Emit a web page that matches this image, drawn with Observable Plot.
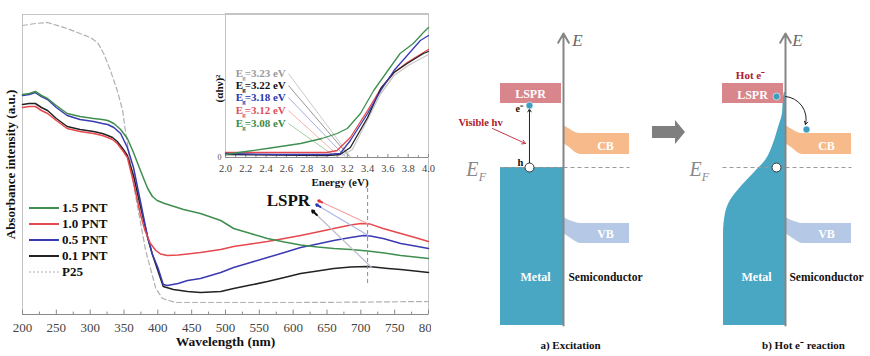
<!DOCTYPE html>
<html><head><meta charset="utf-8">
<script src="https://cdn.jsdelivr.net/npm/d3@7"></script>
<script src="https://cdn.jsdelivr.net/npm/@observablehq/plot@0.6"></script>
<style>
body{margin:0;background:#fff;}
#root{position:relative;width:870px;height:356px;overflow:hidden;background:#fff;font-family:'Liberation Serif','Times New Roman',serif;}
.leg{position:absolute;left:29px;font:bold 13px 'Liberation Serif',serif;color:#111;display:flex;align-items:center;height:14px;}
.leg svg{margin-right:2px;}
</style></head><body><div id="root"></div>
<script>
// ---------- Absorbance spectra (wavelength nm, absorbance a.u.) ----------
const wavelengthTicks = [200,250,300,350,400,450,500,550,600,650,700,750,800];
const wavelengthMinor = [225,275,325,375,425,475,525,575,625,675,725,775];
const seriesNames = ["1.5 PNT","1.0 PNT","0.5 PNT","0.1 PNT","P25"];
const seriesColors = ["#3f8f4f","#e5484d","#3a3ab2","#222222","#b0b0b0"];

const pnt15 = [[200,1.10],[210,1.105],[219,1.115],[228,1.095],[237,1.08],[250,1.045],[266,1.005],[285,0.99],[305,0.98],[318,0.975],[326,0.97],[335,0.955],[345,0.925],[355,0.88],[364,0.81],[372,0.74],[379,0.68],[385,0.63],[392,0.59],[399,0.57],[410,0.555],[438,0.525],[463,0.505],[493,0.47],[512,0.43],[537,0.405],[562,0.38],[587,0.362],[611,0.347],[636,0.337],[660,0.33],[685,0.325],[710,0.318],[735,0.307],[759,0.295],[780,0.287],[800,0.28]];
const pnt10 = [[200,1.035],[210,1.04],[219,1.04],[228,1.02],[237,1.005],[250,0.97],[266,0.93],[285,0.915],[305,0.905],[318,0.895],[326,0.885],[333,0.875],[340,0.855],[348,0.82],[355,0.785],[362,0.69],[368,0.6],[374,0.505],[381,0.42],[389,0.355],[397,0.32],[404,0.303],[414,0.295],[430,0.297],[444,0.303],[463,0.31],[493,0.325],[512,0.34],[537,0.352],[562,0.365],[587,0.38],[611,0.395],[636,0.412],[660,0.43],[685,0.447],[700,0.455],[714,0.452],[733,0.43],[759,0.405],[780,0.385],[800,0.365]];
const pnt05 = [[200,1.095],[210,1.10],[219,1.11],[228,1.09],[237,1.075],[250,1.035],[266,0.995],[285,0.975],[305,0.965],[318,0.955],[326,0.95],[335,0.935],[345,0.905],[355,0.835],[364,0.735],[374,0.57],[385,0.385],[392,0.3],[400,0.235],[408,0.15],[414,0.145],[430,0.155],[444,0.17],[463,0.18],[493,0.21],[512,0.235],[537,0.26],[562,0.285],[587,0.31],[611,0.335],[636,0.352],[660,0.37],[685,0.385],[704,0.395],[714,0.393],[733,0.38],[759,0.355],[780,0.342],[800,0.33]];
const pnt01 = [[200,1.05],[210,1.055],[219,1.055],[228,1.035],[237,1.02],[250,0.98],[266,0.94],[285,0.925],[305,0.915],[318,0.905],[326,0.895],[333,0.885],[340,0.865],[348,0.83],[355,0.795],[364,0.695],[374,0.545],[385,0.385],[392,0.3],[400,0.22],[408,0.14],[423,0.125],[444,0.115],[463,0.11],[493,0.115],[512,0.13],[537,0.147],[562,0.165],[587,0.185],[611,0.205],[636,0.218],[660,0.23],[685,0.237],[710,0.24],[719,0.237],[740,0.23],[759,0.225],[780,0.218],[800,0.21]];
const p25 = [[200,1.445],[219,1.455],[237,1.46],[266,1.43],[300,1.385],[311,1.36],[320,1.305],[330,1.22],[340,1.12],[348,1.02],[352,0.92],[367,0.595],[382,0.32],[397,0.13],[407,0.08],[426,0.06],[500,0.06],[611,0.06],[700,0.062],[800,0.065]];

// LSPR annotation: arrows from band maxima to the label
const lsprLabel = {x: 593, y: 0.57, text: "LSPR"};
const lsprArrows = [
  {x1:710, y1:0.455, x2:637, y2:0.57, line:"#f2a3a3", head:"#e03040"},
  {x1:711, y1:0.395, x2:634, y2:0.55, line:"#aab6ea", head:"#2a3aa8"},
  {x1:716, y1:0.235, x2:628, y2:0.52, line:"#bcbccc", head:"#111111"}
];
const lsprMarker = {x:710, y1:0.155, y2:0.655};

// ---------- Inset: Tauc plot (energy eV, (αhν)²) ----------
const energyTicks = [2.0,2.2,2.4,2.6,2.8,3.0,3.2,3.4,3.6,3.8,4.0];
const energyMinor = [2.1,2.3,2.5,2.7,2.9,3.1,3.3,3.5,3.7,3.9];
const taucGreen = [[2.0,3],[2.2,6],[2.41,9],[2.74,14],[2.95,19],[3.10,24],[3.20,29],[3.33,44],[3.46,67],[3.60,87],[3.72,104],[3.85,114],[3.95,125],[4.0,130]];
const taucBlue  = [[2.0,4],[2.5,3],[3.0,3],[3.13,4],[3.23,17],[3.40,44],[3.53,67],[3.66,87],[3.79,102],[3.92,117],[4.0,122]];
const taucBlack = [[2.0,3],[3.0,2],[3.13,3],[3.23,10],[3.40,40],[3.53,69],[3.66,85],[3.79,94],[3.95,104],[4.0,106]];
const taucRed   = [[2.0,5],[3.0,5],[3.10,7],[3.23,20],[3.40,47],[3.53,69],[3.66,85],[3.79,95],[3.95,105],[4.0,108]];
const taucGray  = [[3.15,2],[3.25,8],[3.40,38],[3.53,64],[3.66,82],[3.80,92],[4.0,103]];
const egValues = [3.23,3.22,3.18,3.12,3.08];
const egColors = ["#9a9a9a","#111111","#2a35b0","#e0505a","#3a8a45"];
const egLineColors = ["#c4c4c4","#8a8a8a","#9aa2dc","#f2a8a8","#9cc89c"];
const egRowValue = [84,72,60,47,34];

// ---------- Band diagrams (x: distance, metal < 0 < semiconductor; y: energy, E_F = 0) ----------
const metalA = [{x1:-1.05, x2:0, y1:-3.16, y2:0}];
const lsprBox = [{x1:-1.05, x2:-0.033, y1:1.28, y2:1.68}];
const cbShape = [{x:0,lo:0.48,hi:0.84},{x:0.1,lo:0.40,hi:0.77},{x:0.2,lo:0.30,hi:0.70},{x:0.28,lo:0.26,hi:0.68},{x:1.1,lo:0.26,hi:0.68}];
const vbShape = [{x:0,lo:-1.32,hi:-1.0},{x:0.1,lo:-1.40,hi:-1.06},{x:0.2,lo:-1.48,hi:-1.10},{x:0.28,lo:-1.52,hi:-1.12},{x:1.1,lo:-1.52,hi:-1.12}];
const metalB = [{e:1.5,x:-0.02},{e:1.4,x:-0.033},{e:1.08,x:-0.05},{e:0.8,x:-0.117},{e:0.48,x:-0.2},{e:0.14,x:-0.333},{e:-0.12,x:-0.533},{e:-0.4,x:-0.75},{e:-0.66,x:-0.917},{e:-0.92,x:-1.0},{e:-1.32,x:-1.033},{e:-3.16,x:-1.033}];
const bigArrow = [{x:-2.217,lo:0.58,hi:0.82},{x:-1.833,lo:0.58,hi:0.82},{x:-1.833,lo:0.46,hi:0.94},{x:-1.667,lo:0.70,hi:0.70}];
const energyAxis = [{x:0, y1:-3.16, y2:2.68}];
const fermiLine = [{x1:-1.05, x2:1.1, y:0}];
const excitation = [{x1:-0.567, y1:0.09, x2:-0.567, y2:1.17}];
const lightArrow = [{x1:-1.183, y1:0.78, x2:-0.633, y2:0.48}];
const transfer = [{x1:0.0, y1:1.42, x2:0.333, y2:0.86}];
const electronsA = [{x:-0.567, y:1.24}];
const holesA = [{x:-0.567, y:0}];
const electronsB = [{x:-0.15, y:1.42},{x:0.35, y:0.76}];
const holesB = [{x:-0.15, y:0}];
const textsA = [
  {x:0.233,y:2.54,t:"E",fill:"#666",size:17,w:"normal",it:"italic"},
  {x:-0.55,y:1.46,t:"LSPR",fill:"#fff",size:12,w:"bold",it:"normal"},
  {x:-0.74,y:1.17,t:"e⁻",fill:"#111",size:10,w:"bold",it:"normal"},
  {x:-1.383,y:0.9,t:"Visible hv",fill:"#b0202c",size:10.5,w:"bold",it:"normal"},
  {x:-0.72,y:0.1,t:"h",fill:"#111",size:10.5,w:"bold",it:"normal"},
  {x:-1.52,y:-0.04,t:"E",fill:"#888",size:20,w:"normal",it:"italic"},
  {x:-1.35,y:-0.2,t:"F",fill:"#888",size:12,w:"normal",it:"italic"},
  {x:0.7,y:0.42,t:"CB",fill:"#fff",size:12,w:"bold",it:"normal"},
  {x:0.7,y:-1.34,t:"VB",fill:"#fff",size:12,w:"bold",it:"normal"},
  {x:-0.467,y:-2.2,t:"Metal",fill:"#fff",size:12,w:"bold",it:"normal"},
  {x:0.7,y:-2.2,t:"Semiconductor",fill:"#111",size:11.5,w:"bold",it:"normal"},
  {x:0.117,y:-3.56,t:"a) Excitation",fill:"#111",size:11,w:"bold",it:"normal"}
];
const textsB = [
  {x:0.2,y:2.54,t:"E",fill:"#666",size:17,w:"normal",it:"italic"},
  {x:-0.583,y:1.84,t:"Hot e⁻",fill:"#b0202c",size:11,w:"bold",it:"normal"},
  {x:-0.55,y:1.44,t:"LSPR",fill:"#fff",size:12,w:"bold",it:"normal"},
  {x:-1.5,y:-0.04,t:"E",fill:"#888",size:20,w:"normal",it:"italic"},
  {x:-1.333,y:-0.2,t:"F",fill:"#888",size:12,w:"normal",it:"italic"},
  {x:0.683,y:0.42,t:"CB",fill:"#fff",size:12,w:"bold",it:"normal"},
  {x:0.683,y:-1.34,t:"VB",fill:"#fff",size:12,w:"bold",it:"normal"},
  {x:-0.483,y:-2.2,t:"Metal",fill:"#fff",size:12,w:"bold",it:"normal"},
  {x:0.683,y:-2.2,t:"Semiconductor",fill:"#111",size:11.5,w:"bold",it:"normal"},
  {x:0.3,y:-3.56,t:"b) Hot e⁻ reaction",fill:"#111",size:11,w:"bold",it:"normal"}
];

// ---------- build ----------
const root = document.getElementById("root");
const serif = "'Liberation Serif','Times New Roman',serif";
function place(el, left, top){ el.style.position="absolute"; el.style.left=left+"px"; el.style.top=top+"px"; root.appendChild(el); }
const toRows = arr => arr.map(([x,y]) => ({x,y}));

// Main chart
const mainSeries = [pnt15, pnt10, pnt05, pnt01];
const main = Plot.plot({
  width: 431, height: 356,
  marginLeft: 22, marginRight: 3, marginTop: 14, marginBottom: 42,
  x: {domain:[200,800], ticks: wavelengthTicks, tickSize: 0, tickPadding: 8, tickFormat: d => String(d), label: null},
  y: {domain:[0,1.5], axis: null},
  style: {fontFamily: serif, fontSize: "13px", color: "#444", background: "transparent", overflow: "hidden"},
  marks: [
    Plot.frame({stroke:"#c4c4c4"}),
    Plot.ruleY([0], {stroke:"#8a8a8a"}),
    Plot.ruleX(wavelengthTicks, {y1:0, y2:0.022, stroke:"#8a8a8a"}),
    Plot.ruleX(wavelengthMinor, {y1:0, y2:0.012, stroke:"#8a8a8a"}),
    Plot.line(toRows(p25), {x:"x", y:"y", stroke: seriesColors[4], strokeWidth: 1.2, strokeDasharray: "5,3"}),
    ...mainSeries.map((s,i) => Plot.line(toRows(s), {x:"x", y:"y", stroke: seriesColors[i], strokeWidth: 1.5})).reverse(),
    Plot.ruleX([lsprMarker], {x:"x", y1:"y1", y2:"y2", stroke:"#a67aa6", strokeDasharray:"4,3", strokeWidth: 1}),
    Plot.link(lsprArrows, {x1:"x1", y1:"y1", x2:"x2", y2:"y2", stroke: d => d.line, strokeWidth: 1.2}),
    Plot.arrow(lsprArrows, {x1: d => d.x2 + (d.x1-d.x2)*0.08, y1: d => d.y2 + (d.y1-d.y2)*0.08, x2:"x2", y2:"y2", stroke: d => d.head, strokeWidth: 2, headLength: 6}),
    Plot.text([lsprLabel], {x:"x", y:"y", text:"text", fontSize: 17, fontWeight:"bold", fill:"#111"}),
    Plot.text(["Absorbance intensity (a.u.)"], {text: d => d, frameAnchor:"left", textAnchor:"middle", dx:-12, rotate:-90, fontSize:13, fontWeight:"bold", fill:"#111"}),
    Plot.text(["Wavelength (nm)"], {text: d => d, frameAnchor:"bottom", dy:31, fontSize:13.5, fontWeight:"bold", fill:"#111"})
  ]
});
place(main, 0, 0);

// Legend
seriesNames.forEach((name, i) => {
  const d = document.createElement("div");
  d.className = "leg";
  d.style.top = (201 + i*16) + "px";
  const dash = i === 4 ? 'stroke-dasharray="2,2"' : '';
  d.innerHTML = `<svg width="31" height="4"><line x1="0" y1="2" x2="30" y2="2" stroke="${seriesColors[i]}" stroke-width="${i===4?1.2:2}" ${dash}/></svg><span>${name}</span>`;
  root.appendChild(d);
});

// Inset
const taucSeries = [taucGray, taucRed, taucBlack, taucBlue, taucGreen];
const taucColors = ["#c8c8c8", "#e5484d", "#222222", "#3a3ab2", "#3f8f4f"];
const egRows = egValues.map((v,i) => ({eg:v, label:"=" + v.toFixed(2) + " eV", color: egColors[i], line: egLineColors[i], row: egRowValue[i]}));
const inset = Plot.plot({
  width: 231, height: 192,
  marginLeft: 25, marginRight: 3, marginTop: 13, marginBottom: 35,
  x: {domain:[2,4], ticks: energyTicks, tickSize: 0, tickPadding: 7, tickFormat: d => d.toFixed(1), label: null},
  y: {domain:[0,144], axis: null},
  style: {fontFamily: serif, fontSize: "10.5px", color: "#444", background: "transparent", overflow: "visible"},
  marks: [
    Plot.frame({stroke:"#c4c4c4"}),
    Plot.ruleY([0], {stroke:"#8a8a8a"}),
    Plot.ruleX(energyTicks, {y1:0, y2:3, stroke:"#8a8a8a"}),
    Plot.ruleX(energyMinor, {y1:0, y2:1.8, stroke:"#8a8a8a"}),
    Plot.link(egRows, {x1: 2.62, y1: "row", x2: "eg", y2: 1, stroke: "line", strokeWidth: 0.9}),
    ...taucSeries.map((s,i) => Plot.line(toRows(s), {x:"x", y:"y", stroke: taucColors[i], strokeWidth: 1.3})),
    Plot.text(egRows, {x: 2.1, y: "row", text: d => "E", fill: "color", fontWeight:"bold", fontSize: 11, textAnchor:"start"}),
    Plot.text(egRows, {x: 2.1, y: "row", text: d => "g", fill: "color", fontWeight:"bold", fontSize: 7, textAnchor:"start", dx: 6.5, dy: 4}),
    Plot.text(egRows, {x: 2.1, y: "row", text: "label", fill: "color", fontWeight:"bold", fontSize: 11, textAnchor:"start", dx: 9}),
    Plot.text(["0"], {x: 2, y: 0, text: d => d, dx: -4, textAnchor: "end", fontSize: 8, fill:"#555"}),
    Plot.text(["(αhν)²"], {text: d => d, frameAnchor:"left", textAnchor:"middle", dx:-6, dy: 3, rotate:-90, fontSize:11, fontWeight:"bold", fill:"#111"}),
    Plot.text(["Energy (eV)"], {text: d => d, frameAnchor:"bottom", dx: 13, dy: 28, fontSize:11, fontWeight:"bold", fill:"#111"})
  ]
});
place(inset, 200, 0);

// Band diagrams
const diagBase = {width: 220, height: 356, margin: 0,
  x: {domain:[-2.2167, 1.45], axis: null},
  y: {domain:[-3.78, 3.34], axis: null},
  style: {fontFamily: serif, background: "transparent", overflow: "visible"}};
const textMarks = arr => arr.map(t => Plot.text([t], {x:"x", y:"y", text:"t", fill: t.fill, fontSize: t.size, fontWeight: t.w, fontStyle: t.it}));
const bandMarks = [
  Plot.areaY(cbShape, {x:"x", y1:"lo", y2:"hi", fill:"#f7bb8b", curve:"monotone-x"}),
  Plot.areaY(vbShape, {x:"x", y1:"lo", y2:"hi", fill:"#b5c8e6", curve:"monotone-x"})
];
const panelA = Plot.plot({...diagBase, marks: [
  Plot.rect(metalA, {x1:"x1", x2:"x2", y1:"y1", y2:"y2", fill:"#4aa7c4"}),
  Plot.rect(lsprBox, {x1:"x1", x2:"x2", y1:"y1", y2:"y2", fill:"#d9858c"}),
  ...bandMarks,
  Plot.link(fermiLine, {x1:"x1", x2:"x2", y1:"y", y2:"y", stroke:"#9a9a9a", strokeDasharray:"4,3", strokeWidth: 1.2}),
  Plot.arrow(energyAxis, {x1:"x", x2:"x", y1:"y1", y2:"y2", stroke:"#858585", strokeWidth: 2, headLength: 8}),
  Plot.arrow(excitation, {x1:"x1", y1:"y1", x2:"x2", y2:"y2", stroke:"#222", strokeWidth: 1, headLength: 5}),
  Plot.arrow(lightArrow, {x1:"x1", y1:"y1", x2:"x2", y2:"y2", stroke:"#c03a4a", strokeWidth: 1, headLength: 6}),
  Plot.dot(electronsA, {x:"x", y:"y", r: 3.5, fill:"#3d9ec0", stroke:"#fff", strokeWidth: 0.6}),
  Plot.dot(holesA, {x:"x", y:"y", r: 4.5, fill:"#fff", stroke:"#333", strokeWidth: 1}),
  ...textMarks(textsA)
]});
place(panelA, 430, 0);

const panelB = Plot.plot({...diagBase, marks: [
  Plot.areaY(bigArrow, {x:"x", y1:"lo", y2:"hi", fill:"#7f7f7f"}),
  Plot.areaX(metalB, {y:"e", x1:"x", x2: 0, fill:"#4aa7c4", curve:"monotone-y"}),
  Plot.rect(lsprBox, {x1:"x1", x2:"x2", y1:"y1", y2:"y2", fill:"#d9858c"}),
  ...bandMarks,
  Plot.link(fermiLine, {x1:"x1", x2:"x2", y1:"y", y2:"y", stroke:"#9a9a9a", strokeDasharray:"4,3", strokeWidth: 1.2}),
  Plot.arrow(energyAxis, {x1:"x", x2:"x", y1:"y1", y2:"y2", stroke:"#858585", strokeWidth: 2, headLength: 8}),
  Plot.arrow(transfer, {x1:"x1", y1:"y1", x2:"x2", y2:"y2", stroke:"#222", strokeWidth: 1, headLength: 5, bend: 50}),
  Plot.dot(electronsB, {x:"x", y:"y", r: 3.5, fill:"#3d9ec0", stroke:"#fff", strokeWidth: 0.6}),
  Plot.dot(holesB, {x:"x", y:"y", r: 4.5, fill:"#fff", stroke:"#333", strokeWidth: 1}),
  ...textMarks(textsB)
]});
place(panelB, 652, 0);
</script></body></html>
